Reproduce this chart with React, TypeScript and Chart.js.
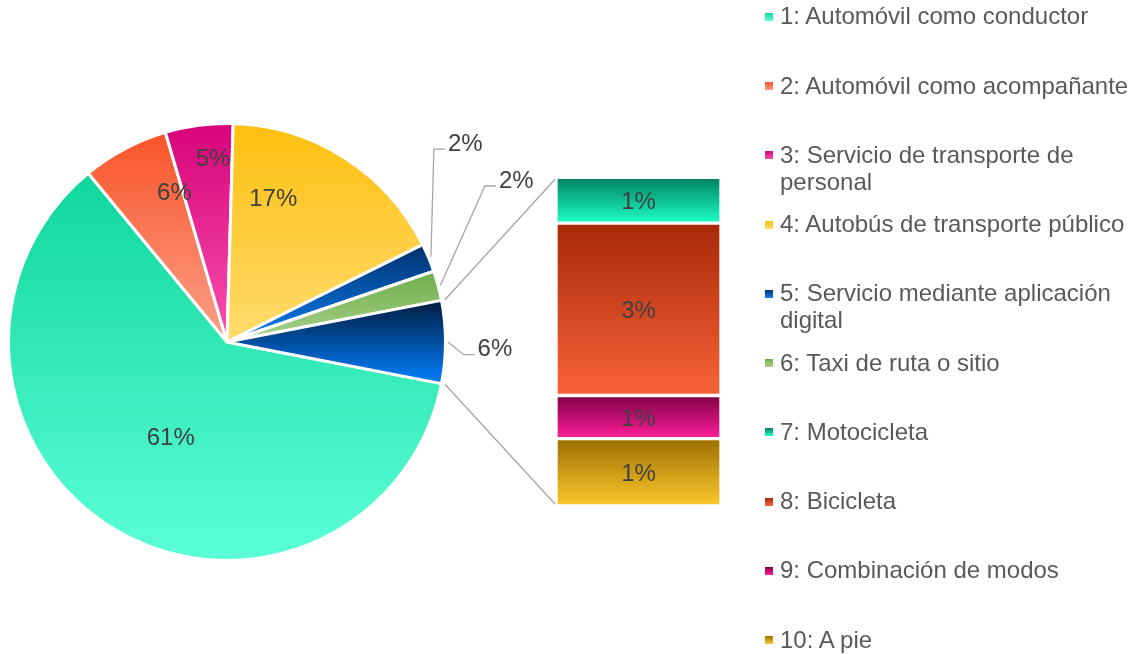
import React, { useEffect, useRef } from "react";
import { Chart, registerables } from "chart.js";

Chart.register(...registerables);

// ---------- data ----------
const categories = [
  "1: Automóvil como conductor",
  "2: Automóvil como acompañante",
  "3: Servicio de transporte de personal",
  "4: Autobús de transporte público",
  "5: Servicio mediante aplicación digital",
  "6: Taxi de ruta o sitio",
  "7: Motocicleta",
  "8: Bicicleta",
  "9: Combinación de modos",
  "10: A pie",
];
// items 1-6 drawn in the pie
const primaryValues = [61.0, 6.4, 5.0, 17.2, 2.1, 2.2];
// items 7-10 drawn in the secondary stacked bar ("other" slice of the pie)
const secondaryValues = [0.85, 3.2, 0.8, 1.25];
const otherLabel = "Otros";

// ---------- styles ----------
const gradientTop = ["#0fd69c", "#f95428", "#d6047a", "#ffbf0e", "#00306a", "#70ad47", "#00805e", "#a82807", "#800044", "#9b7000"];
const gradientBottom = ["#5cffd7", "#fba089", "#fa50ae", "#ffdc6e", "#0a80f5", "#a9d18e", "#1dffc7", "#f8643a", "#ff1f9a", "#fcc82c"];
const otherTop = "#001c3f";
const otherBottom = "#0080ff";

const FONT = '24px "Liberation Sans", Arial, sans-serif';
const CAP = 17.2; // cap height of 24px Arial
const LABEL_COLOR = "#404040";
const LEADER_COLOR = "#a6a6a6";
const PIE_BORDER = 3;
const BAR_BORDER = 2;

// label placement relative to each slice: t = fraction along the arc, r = fraction of radius
const pieLabelPlacement = [
  { t: 0.5, r: 0.507, outside: false },
  { t: 0.873, r: 0.733, outside: false },
  { t: 0.671, r: 0.855, outside: false },
  { t: 0.26, r: 0.7, outside: false },
  { t: -1.79, r: 1.433, outside: true },
  { t: -1.326, r: 1.53, outside: true },
  { t: 0.555, r: 1.235, outside: true },
];

function arcYRange(p: any) {
  let minY = p.y;
  let maxY = p.y;
  for (const a of [p.startAngle, p.endAngle]) {
    const py = p.y + p.outerRadius * Math.sin(a);
    minY = Math.min(minY, py);
    maxY = Math.max(maxY, py);
  }
  const includes = (t: number) => {
    let v = t;
    while (v < p.startAngle) v += Math.PI * 2;
    while (v - Math.PI * 2 >= p.startAngle) v -= Math.PI * 2;
    return v <= p.endAngle;
  };
  if (includes(-Math.PI / 2)) minY = p.y - p.outerRadius;
  if (includes(Math.PI / 2)) maxY = p.y + p.outerRadius;
  return [minY, maxY];
}

export default function App() {
  const pieRef = useRef<HTMLCanvasElement>(null);
  const barRef = useRef<HTMLCanvasElement>(null);

  useEffect(() => {
    const otherValue = secondaryValues.reduce((a, b) => a + b, 0);
    const pieData = [...primaryValues, otherValue];
    const total = pieData.reduce((a, b) => a + b, 0);
    const rotation = 90 + (otherValue / total) * 180; // centre "other" slice at 3 o'clock
    const pieTop = [...gradientTop.slice(0, 6), otherTop];
    const pieBottom = [...gradientBottom.slice(0, 6), otherBottom];

    const pieGradient = {
      id: "pieGradient",
      beforeDatasetsDraw(chart: any) {
        const ctx = chart.ctx;
        chart.getDatasetMeta(0).data.forEach((el: any, i: number) => {
          const p = el.getProps(["x", "y", "startAngle", "endAngle", "outerRadius"], true);
          const [y0, y1] = arcYRange(p);
          const g = ctx.createLinearGradient(0, y0, 0, y1);
          g.addColorStop(0, pieTop[i]);
          g.addColorStop(1, pieBottom[i]);
          el.options = { ...el.options, backgroundColor: g };
        });
      },
    };

    const pieLabels = {
      id: "pieLabels",
      afterDatasetsDraw(chart: any) {
        const ctx = chart.ctx;
        ctx.save();
        ctx.font = FONT;
        ctx.textAlign = "center";
        ctx.textBaseline = "alphabetic";
        chart.getDatasetMeta(0).data.forEach((el: any, i: number) => {
          const p = el.getProps(["x", "y", "startAngle", "endAngle", "outerRadius"], true);
          const rv = p.outerRadius - PIE_BORDER / 2;
          const pl = pieLabelPlacement[i];
          const a = p.startAngle + pl.t * (p.endAngle - p.startAngle);
          const cx = p.x + pl.r * rv * Math.cos(a);
          const cy = p.y + pl.r * rv * Math.sin(a);
          const text = Math.round((pieData[i] / total) * 100) + "%";
          const w = ctx.measureText(text).width;
          ctx.fillStyle = LABEL_COLOR;
          ctx.fillText(text, cx, cy + CAP / 2);
          if (pl.outside) {
            const mid = (p.startAngle + p.endAngle) / 2;
            const sr = rv + 4;
            const sx = p.x + sr * Math.cos(mid);
            const sy = p.y + sr * Math.sin(mid);
            const left = cx - w / 2;
            const ly = cy + 7;
            ctx.strokeStyle = LEADER_COLOR;
            ctx.lineWidth = 1.3;
            ctx.beginPath();
            ctx.moveTo(sx, sy);
            ctx.lineTo(left - 14, ly);
            ctx.lineTo(left - 3, ly);
            ctx.stroke();
          }
        });
        ctx.restore();
      },
    };

    const pieChart = new Chart(pieRef.current as HTMLCanvasElement, {
      type: "pie",
      data: {
        labels: [...categories.slice(0, 6), otherLabel],
        datasets: [
          {
            data: pieData,
            backgroundColor: pieTop,
            borderColor: "#ffffff",
            borderWidth: PIE_BORDER,
            hoverOffset: 0,
          },
        ],
      },
      options: {
        responsive: false,
        animation: false,
        events: [],
        rotation,
        layout: { padding: { left: 7, top: 122, right: 687, bottom: 92 } },
        plugins: { legend: { display: false }, tooltip: { enabled: false } },
      },
      plugins: [pieGradient, pieLabels],
    } as any);

    // secondary bar: datasets reversed so item 7 sits on top of the stack
    const barOrder = secondaryValues.map((_, j) => j).reverse();

    const barGradient = {
      id: "barGradient",
      beforeDatasetsDraw(chart: any) {
        const ctx = chart.ctx;
        chart.data.datasets.forEach((_: any, di: number) => {
          const el: any = chart.getDatasetMeta(di).data[0];
          const p = el.getProps(["y", "base"], true);
          const j = barOrder[di];
          const g = ctx.createLinearGradient(0, Math.min(p.y, p.base), 0, Math.max(p.y, p.base));
          g.addColorStop(0, gradientTop[6 + j]);
          g.addColorStop(1, gradientBottom[6 + j]);
          el.options = { ...el.options, backgroundColor: g };
        });
      },
    };

    const barLabels = {
      id: "barLabels",
      afterDatasetsDraw(chart: any) {
        const ctx = chart.ctx;
        ctx.save();
        ctx.font = FONT;
        ctx.textAlign = "center";
        ctx.textBaseline = "alphabetic";
        ctx.fillStyle = LABEL_COLOR;
        chart.data.datasets.forEach((_: any, di: number) => {
          const el: any = chart.getDatasetMeta(di).data[0];
          const p = el.getProps(["x", "y", "base"], true);
          const j = barOrder[di];
          const text = Math.round((secondaryValues[j] / total) * 100) + "%";
          ctx.fillText(text, p.x, (p.y + p.base) / 2 + CAP / 2);
        });
        // connector lines from the pie's "other" slice to the bar
        const arc: any = pieChart.getDatasetMeta(0).data[6];
        const a = arc.getProps(["x", "y", "startAngle", "endAngle", "outerRadius"], true);
        const R = a.outerRadius - PIE_BORDER / 2 + 5;
        const topEl: any = chart.getDatasetMeta(chart.data.datasets.length - 1).data[0];
        const botEl: any = chart.getDatasetMeta(0).data[0];
        const tp = topEl.getProps(["x", "y", "width"], true);
        const bp = botEl.getProps(["x", "base", "width"], true);
        const left = tp.x - tp.width / 2 - 1;
        ctx.strokeStyle = LEADER_COLOR;
        ctx.lineWidth = 1.3;
        ctx.beginPath();
        ctx.moveTo(a.x + R * Math.cos(a.startAngle), a.y + R * Math.sin(a.startAngle));
        ctx.lineTo(left, tp.y + BAR_BORDER);
        ctx.moveTo(a.x + R * Math.cos(a.endAngle), a.y + R * Math.sin(a.endAngle));
        ctx.lineTo(left, bp.base - BAR_BORDER);
        ctx.stroke();
        ctx.restore();
      },
    };

    const barChart = new Chart(barRef.current as HTMLCanvasElement, {
      type: "bar",
      data: {
        labels: [otherLabel],
        datasets: barOrder.map((j) => ({
          label: categories[6 + j],
          data: [secondaryValues[j]],
          backgroundColor: gradientTop[6 + j],
          borderColor: "#ffffff",
          borderWidth: BAR_BORDER,
          borderSkipped: false,
          barPercentage: 1,
          categoryPercentage: 1,
        })),
      },
      options: {
        responsive: false,
        animation: false,
        events: [],
        layout: { padding: { left: 556, right: 413, top: 177.3, bottom: 148 } },
        plugins: { legend: { display: false }, tooltip: { enabled: false } },
        scales: {
          x: { display: false, stacked: true },
          y: { display: false, stacked: true, min: 0, max: otherValue },
        },
      },
      plugins: [barGradient, barLabels],
    } as any);

    return () => {
      barChart.destroy();
      pieChart.destroy();
    };
  }, []);

  return (
    <div
      style={{
        position: "absolute",
        left: 0,
        top: 0,
        width: 1134,
        height: 654,
        overflow: "hidden",
        background: "#ffffff",
      }}
    >
      <canvas ref={pieRef} width={1134} height={654} style={{ position: "absolute", left: 0, top: 0 }} />
      <canvas ref={barRef} width={1134} height={654} style={{ position: "absolute", left: 0, top: 0 }} />
      <div style={{ position: "absolute", left: 765, top: 3.3, width: 369 }}>
        {categories.map((c, i) => (
          <div key={i} style={{ height: 69.26, display: "flex", alignItems: "flex-start" }}>
            <div
              style={{
                flex: "0 0 8px",
                width: 8,
                height: 8,
                marginTop: 9.5,
                marginRight: 7,
                background: `linear-gradient(${gradientTop[i]}, ${gradientBottom[i]})`,
              }}
            />
            <div
              style={{
                width: 354,
                font: FONT,
                lineHeight: "26.7px",
                color: "#595959",
              }}
            >
              {c}
            </div>
          </div>
        ))}
      </div>
    </div>
  );
}
